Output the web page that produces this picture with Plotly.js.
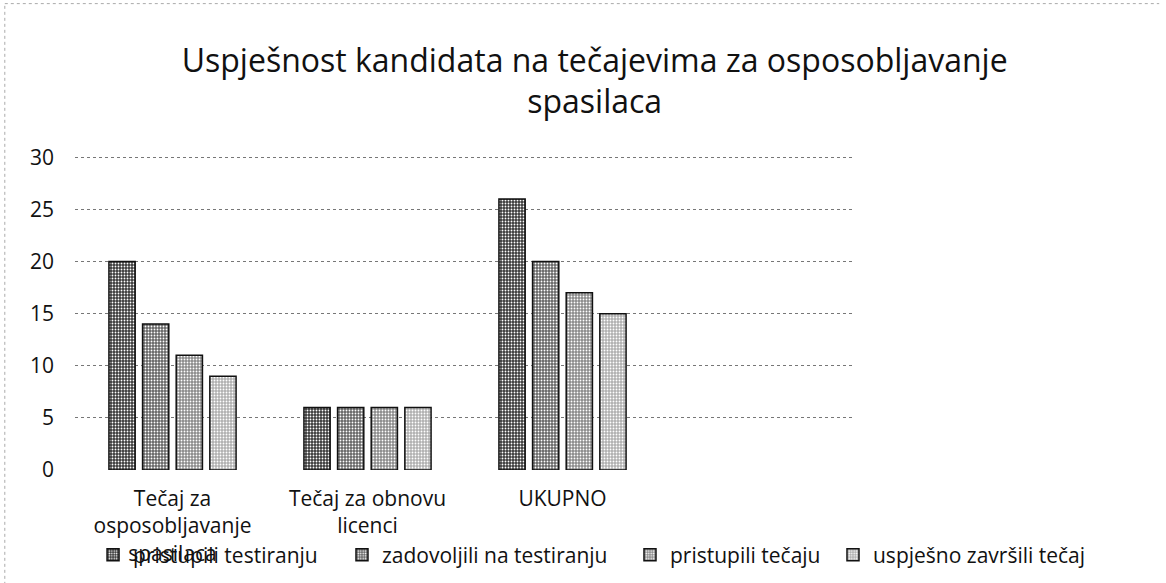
<!DOCTYPE html>
<html>
<head>
<meta charset="utf-8">
<script src="https://cdn.plot.ly/plotly-3.0.1.min.js"></script>
<style>html,body{margin:0;padding:0;background:#fff;}#chart{width:1166px;height:583px;}</style>
</head>
<body>
<div id="chart"></div>
<script>
const categories = ["Tečaj za<br>osposobljavanje<br>spasilaca", "Tečaj za obnovu<br>licenci", "UKUPNO"];
const seriesNames = ["pristupili testiranju", "zadovoljili na testiranju", "pristupili tečaju", "uspješno završili tečaj"];
const pristupiliTestiranju = [20, 6, 26];
const zadovoljiliNaTestiranju = [14, 6, 20];
const pristupiliTecaju = [11, 6, 17];
const uspjesnoZavrsiliTecaj = [9, 6, 15];
const yTicks = [0, 5, 10, 15, 20, 25, 30];

const values = [pristupiliTestiranju, zadovoljiliNaTestiranju, pristupiliTecaju, uspjesnoZavrsiliTecaj];
const fills = ["#3a3a3a", "#666666", "#8a8a8a", "#b0b0b0"];
const legendIds = ["legend", "legend2", "legend3", "legend4"];
const legendX = [0.0798, 0.2933, 0.5403, 0.7144];
const fontFam = "Open Sans, DejaVu Sans, sans-serif";

const traces = values.map((v, i) => ({
  type: "bar",
  name: seriesNames[i],
  x: categories,
  y: v,
  legend: legendIds[i],
  marker: {
    color: fills[i],
    line: {color: "#111", width: 1.5},
    pattern: {shape: ".", fgcolor: "#ffffff", bgcolor: fills[i], size: 3, solidity: 0.3}
  }
}));

const layout = {
  width: 1166, height: 583,
  margin: {l: 75, r: 311, t: 151, b: 113},
  paper_bgcolor: "#fff", plot_bgcolor: "#fff",
  font: {family: fontFam, color: "#111", size: 21},
  title: {
    text: "Uspješnost kandidata na tečajevima za osposobljavanje<br>spasilaca",
    font: {family: fontFam, size: 32, color: "#111"},
    x: 0.51, xref: "container", xanchor: "center",
    y: 0.877, yref: "container", yanchor: "middle"
  },
  barmode: "group",
  bargap: 0.31,
  bargroupgap: 0.22,
  xaxis: {
    type: "category",
    range: [-0.5, 3.5],
    showgrid: false, zeroline: false, showline: false,
    ticks: "",
    tickfont: {family: fontFam, size: 21, color: "#111"},
    ticklabelstandoff: 14,
    automargin: false
  },
  yaxis: {
    range: [0, 30.6],
    tickvals: yTicks,
    showgrid: true, gridcolor: "#777", griddash: "dot", gridwidth: 1,
    zeroline: false, showline: false, ticks: "",
    tickfont: {family: fontFam, size: 21, color: "#111"},
    ticklabelstandoff: 20,
    automargin: false
  },
  shapes: [
    {type: "line", xref: "paper", yref: "paper", x0: -0.09, x1: 1.39, y0: 1.462, y1: 1.462,
     line: {color: "#aaa", width: 1, dash: "dot"}},
    {type: "line", xref: "paper", yref: "paper", x0: -0.09, x1: -0.09, y0: -0.36, y1: 1.462,
     line: {color: "#aaa", width: 1, dash: "dot"}}
  ],
  showlegend: true
};

legendIds.forEach((id, i) => {
  layout[id] = {
    orientation: "h",
    xref: "container", yref: "container",
    x: legendX[i], xanchor: "left",
    y: 0.048, yanchor: "middle",
    font: {family: fontFam, size: 21, color: "#111"},
    itemwidth: 30,
    bgcolor: "rgba(0,0,0,0)"
  };
});

Plotly.newPlot("chart", traces, layout, {displayModeBar: false, staticPlot: true});
</script>
</body>
</html>
